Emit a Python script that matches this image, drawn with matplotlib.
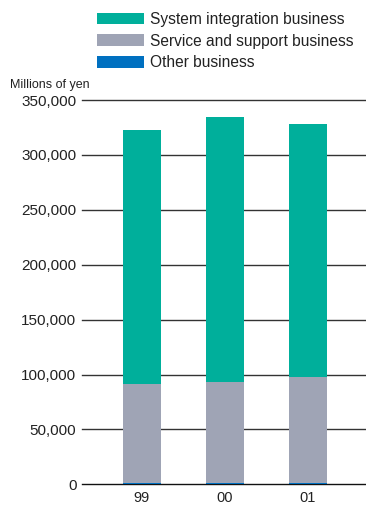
import matplotlib
matplotlib.use("Agg")
import matplotlib.pyplot as plt

plt.rcParams['font.family'] = ['Liberation Sans', 'DejaVu Sans']

years = ["99", "00", "01"]
other = [1200, 1200, 1200]
service = [90400, 92000, 96500]
system = [231100, 241300, 230400]
series_names = ["System integration business", "Service and support business", "Other business"]
colors = ["#00AF9B", "#9FA4B5", "#0070C0"]
yticks = [0, 50000, 100000, 150000, 200000, 250000, 300000, 350000]

W, H = 366, 505
fig = plt.figure(figsize=(W / 100, H / 100), dpi=100)
left, right = 82, 366
y0, y350 = 484.3, 100
ax = fig.add_axes([left / W, 1 - y0 / H, (right - left) / W, (y0 - y350) / H])

x = list(range(len(years)))
width = 38 / 83
b1 = ax.bar(x, other, width, color=colors[2], zorder=3)
b2 = ax.bar(x, service, width, bottom=other, color=colors[1], zorder=3)
bottom2 = [o + s for o, s in zip(other, service)]
b3 = ax.bar(x, system, width, bottom=bottom2, color=colors[0], zorder=3)

ax.set_ylim(0, 350000)
ax.set_xlim(-(142 - left) / 83, (right - 142) / 83)
for t in yticks:
    ax.axhline(t, color="#333333" if t else "#111111", lw=1.0, zorder=2, clip_on=False)
ax.set_yticks(yticks)
ax.set_yticklabels([f"{t:,}" for t in yticks], fontsize=11, color="#222222")
ax.set_xticks(x)
ax.set_xticklabels(years, fontsize=10.5, color="#222222")
ax.tick_params(axis="y", length=0, pad=4)
ax.tick_params(axis="x", length=0, pad=5)
for s in ax.spines.values():
    s.set_visible(False)

fig.text(10 / W, 1 - 88 / H, "Millions of yen", fontsize=9, color="#222222", va="baseline")

fig.legend([b3, b2, b1], series_names, loc="upper left",
           bbox_to_anchor=(97 / W, 1 - 12 / H), frameon=False, fontsize=11.2,
           handlelength=3.0, handleheight=0.78, handletextpad=0.4,
           labelspacing=0.42, borderpad=0, borderaxespad=0, labelcolor="#222222")

fig.savefig("out.png", dpi=100)
